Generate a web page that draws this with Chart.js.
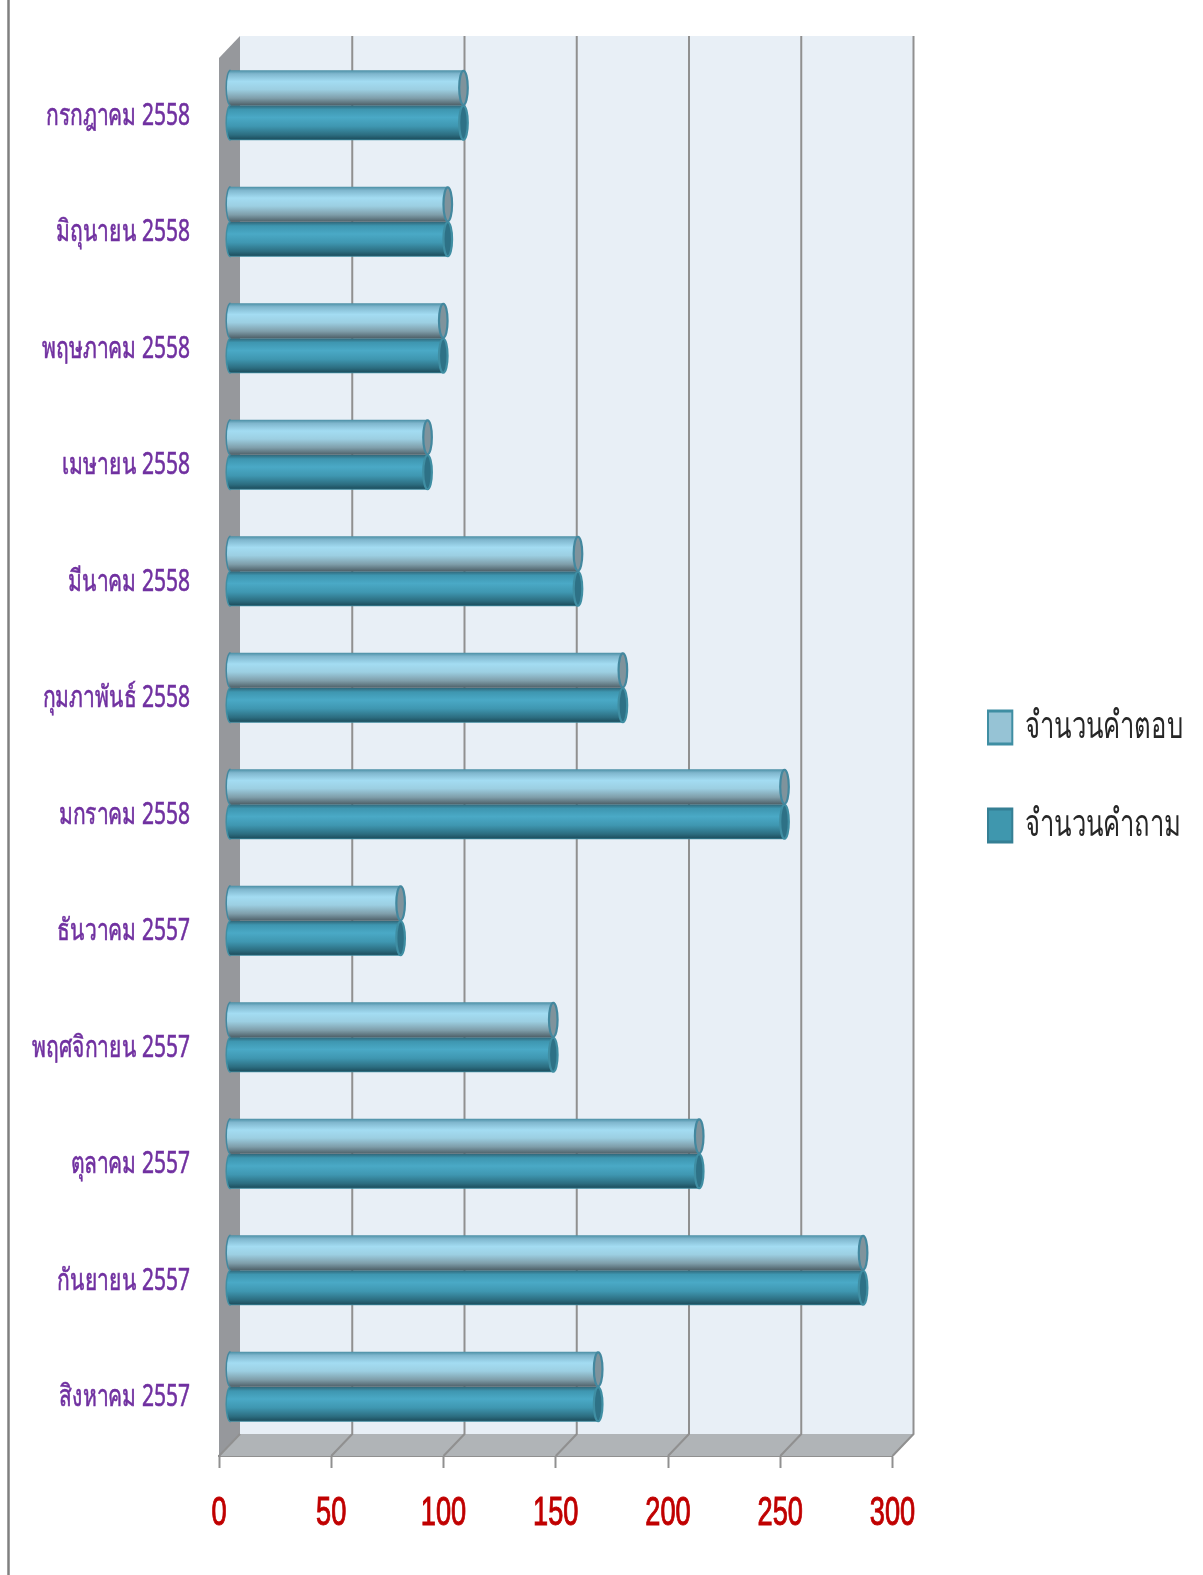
<!DOCTYPE html>
<html>
<head>
<meta charset="utf-8">
<title>chart</title>
<style>
  html, body { margin: 0; padding: 0; background: #fff; }
  canvas { display: block; }
</style>
<script src="https://cdn.jsdelivr.net/npm/chart.js@4/dist/chart.umd.js"></script>
</head>
<body>
<canvas id="chart" width="1203" height="1575"></canvas>
<script>
var months = ['กรกฎาคม 2558', 'มิถุนายน 2558', 'พฤษภาคม 2558', 'เมษายน 2558', 'มีนาคม 2558', 'กุมภาพันธ์ 2558',
  'มกราคม 2558', 'ธันวาคม 2557', 'พฤศจิกายน 2557', 'ตุลาคม 2557', 'กันยายน 2557', 'สิงหาคม 2557'];
var answers = [104, 97, 95, 88, 155, 175, 247, 76, 144, 209, 282, 164];
var questions = [104, 97, 95, 88, 155, 175, 247, 76, 144, 209, 282, 164];

var DEPTH_X = 21;
var DEPTH_Y = 22;

function cylinderGradient(ctx, top, height, stops) {
  var g = ctx.createLinearGradient(0, top, 0, top + height);
  stops.forEach(function (s) { g.addColorStop(s[0], s[1]); });
  return g;
}

var upperStops = [[0, '#4b8fa5'], [0.1, '#7fb6cd'], [0.32, '#a3dcf2'], [0.55, '#9ccfe2'], [0.8, '#7f9eaa'], [1, '#4e6068']];
var lowerStops = [[0, '#2f6577'], [0.12, '#3e96b0'], [0.35, '#4aa9c6'], [0.6, '#3f97b1'], [0.85, '#2c6d80'], [0.96, '#1f5262'], [1, '#3f8ea3']];

// the reference text is tall and narrow, so squeeze the tick labels around their anchor
function squeezeLabels(scale, sx) {
  scale.drawLabels = function (area) {
    var ctx = this.ctx;
    this.getLabelItems(area).forEach(function (item) {
      var opts = Object.assign({}, item.options, { translation: undefined });
      ctx.save();
      ctx.translate(item.options.translation[0], item.options.translation[1]);
      ctx.scale(sx, 1);
      Chart.helpers.renderText(ctx, item.label, 0, item.textOffset, item.font, opts);
      ctx.restore();
    });
  };
}

var boxPlugin = {
  id: 'box',
  // walls, floor and back grid lines of the 3d box
  beforeDatasetsDraw: function (chart) {
    var ctx = chart.ctx;
    var a = chart.chartArea;
    var x = chart.scales.x;
    ctx.save();
    ctx.fillStyle = '#e8eff6';
    ctx.fillRect(a.left + DEPTH_X, a.top - DEPTH_Y, a.width, a.height);

    ctx.fillStyle = '#96989c';
    ctx.beginPath();
    ctx.moveTo(a.left, a.top);
    ctx.lineTo(a.left + DEPTH_X, a.top - DEPTH_Y);
    ctx.lineTo(a.left + DEPTH_X, a.bottom - DEPTH_Y);
    ctx.lineTo(a.left, a.bottom);
    ctx.closePath();
    ctx.fill();

    ctx.fillStyle = '#b0b4b7';
    ctx.beginPath();
    ctx.moveTo(a.left, a.bottom);
    ctx.lineTo(a.left + DEPTH_X, a.bottom - DEPTH_Y);
    ctx.lineTo(a.right + DEPTH_X, a.bottom - DEPTH_Y);
    ctx.lineTo(a.right, a.bottom);
    ctx.closePath();
    ctx.fill();

    ctx.strokeStyle = '#909090';
    ctx.lineWidth = 2;
    x.ticks.forEach(function (t, i) {
      var px = x.getPixelForTick(i);
      ctx.beginPath();
      if (i > 0) {
        ctx.moveTo(px + DEPTH_X, a.top - DEPTH_Y);
        ctx.lineTo(px + DEPTH_X, a.bottom - DEPTH_Y);
      } else {
        ctx.moveTo(px + DEPTH_X, a.bottom - DEPTH_Y);
      }
      ctx.lineTo(px, a.bottom);
      ctx.stroke();
    });

    // frame line at the far left of the picture
    ctx.strokeStyle = '#808080';
    ctx.lineWidth = 2.5;
    ctx.beginPath();
    ctx.moveTo(8.5, 0);
    ctx.lineTo(8.5, chart.height);
    ctx.stroke();
    ctx.restore();
  },
  // draw the bars as cylinders, still from the elements the bar controller laid out
  beforeDatasetDraw: function (chart, args) {
    var ctx = chart.ctx;
    var upper = args.index === 0;
    var stops = upper ? upperStops : lowerStops;
    var edge = upper ? '#43889f' : '#3f8ea3';
    var capFill = upper ? '#7f939c' : '#2e7186';
    ctx.save();
    ctx.translate(DEPTH_X / 2 + 0.5, -DEPTH_Y / 2);
    args.meta.data.forEach(function (bar) {
      var p = bar.getProps(['x', 'y', 'base', 'height'], true);
      var top = p.y - p.height / 2;
      var r = p.height / 2;
      var rx = 4.3;
      ctx.fillStyle = cylinderGradient(ctx, top, p.height, stops);
      ctx.beginPath();
      ctx.ellipse(p.base, p.y, rx, r, 0, Math.PI / 2, Math.PI * 1.5);
      ctx.lineTo(p.x, top);
      ctx.lineTo(p.x, top + p.height);
      ctx.closePath();
      ctx.fill();
      ctx.strokeStyle = edge;
      ctx.lineWidth = 1.5;
      ctx.beginPath();
      ctx.ellipse(p.base, p.y, rx, r, 0, Math.PI / 2, Math.PI * 1.5);
      ctx.stroke();
      ctx.fillStyle = capFill;
      ctx.lineWidth = 2.2;
      ctx.beginPath();
      ctx.ellipse(p.x, p.y, rx, r - 0.5, 0, 0, Math.PI * 2);
      ctx.fill();
      ctx.stroke();
    });
    ctx.restore();
    return false;
  },
  afterLayout: function (chart) {
    squeezeLabels(chart.scales.x, 0.68);
    squeezeLabels(chart.scales.y, 0.7);

    // legend sits well clear of the plot, so move it after layout and squeeze it too
    var legend = chart.legend;
    var shift = 988 - (legend.left + legend.options.labels.padding);
    legend.left += shift;
    legend.right = 2000;
    legend.top -= 40;
    legend.bottom -= 40;
    if (!legend.squeezed) {
      var drawLegend = legend.draw;
      legend.squeezed = true;
      legend.draw = function () {
        var ctx = chart.ctx;
        ctx.save();
        ctx.translate(988, 0);
        ctx.scale(0.675, 1);
        ctx.translate(-988, 0);
        drawLegend.call(legend);
        ctx.restore();
      };
    }
  }
};

new Chart(document.getElementById('chart'), {
  type: 'bar',
  data: {
    labels: months,
    datasets: [
      { label: 'จำนวนคำตอบ', data: answers, backgroundColor: '#96c3d5', borderColor: '#3f8ea3', borderWidth: 3 },
      { label: 'จำนวนคำถาม', data: questions, backgroundColor: '#3f97ae', borderColor: '#357f94', borderWidth: 3 }
    ]
  },
  plugins: [boxPlugin],
  options: {
    indexAxis: 'y',
    responsive: false,
    animation: false,
    categoryPercentage: 0.6,
    barPercentage: 1,
    layout: { autoPadding: false, padding: { left: 0, top: 58, right: 110.5, bottom: 0 } },
    plugins: {
      title: { display: false },
      tooltip: { enabled: false },
      legend: {
        position: 'right',
        maxWidth: 200,
        labels: {
          boxWidth: 36,
          boxHeight: 33,
          padding: 60,
          color: '#262626',
          font: { family: '"Noto Sans", "Liberation Sans", sans-serif', size: 38 }
        }
      }
    },
    scales: {
      x: {
        min: 0,
        max: 300,
        ticks: {
          stepSize: 50,
          autoSkip: false,
          maxRotation: 0,
          padding: 22,
          color: '#c00000',
          textStrokeColor: '#c00000',
          textStrokeWidth: 1,
          font: { family: '"Liberation Sans", sans-serif', size: 40 }
        },
        grid: { drawOnChartArea: false, tickLength: 12, tickColor: '#909090', tickWidth: 2 },
        border: { color: '#909090', width: 2 },
        afterFit: function (s) { s.height = 119; }
      },
      y: {
        ticks: {
          padding: 29,
          autoSkip: false,
          color: '#7030a0',
          textStrokeColor: '#7030a0',
          textStrokeWidth: 0.6,
          font: { family: '"Noto Sans", "Liberation Sans", sans-serif', size: 30 }
        },
        grid: { display: false, drawTicks: false },
        border: { display: false },
        afterFit: function (s) { s.width = 219; }
      }
    }
  }
});
</script>
</body>
</html>
